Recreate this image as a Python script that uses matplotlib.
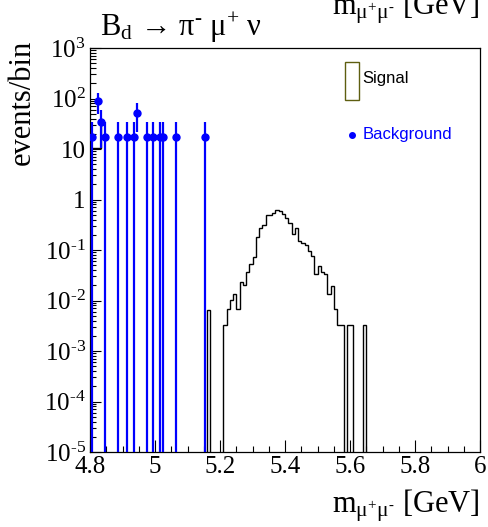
import numpy as np
import matplotlib.pyplot as plt
from matplotlib.patches import Rectangle
from matplotlib.lines import Line2D
from matplotlib.ticker import MultipleLocator, FixedLocator, FixedFormatter, FuncFormatter, LogLocator, NullFormatter

plt.rcParams['font.family'] = ['Liberation Serif', 'DejaVu Serif']
plt.rcParams['mathtext.fontset'] = 'custom'
plt.rcParams['mathtext.rm'] = 'Liberation Serif'
plt.rcParams['mathtext.it'] = 'Liberation Serif:italic'
plt.rcParams['mathtext.bf'] = 'Liberation Serif:bold'

# ---- dados ----
x_min, x_max, bin_w = 4.8, 6.0, 0.01

# sinal: histograma a partir do bin 5.16 (largura 0.01)
sig_first = 5.16
sig_vals = [0.00655, 0, 0, 0, 0,
            0.00327, 0.00668, 0.0102, 0.0132, 0.00668, 0.0229, 0.0203, 0.0361, 0.0528, 0.0738,
            0.184, 0.269, 0.313, 0.486, 0.486, 0.548, 0.619, 0.583, 0.509, 0.425,
            0.337, 0.207, 0.269, 0.153, 0.140, 0.126, 0.0968, 0.0760, 0.0330, 0.0482,
            0.0361, 0.0330, 0.0132, 0.0197, 0.00668, 0.00327, 0.00327, 0, 0.00327, 0.00327,
            0, 0, 0, 0.00327]

# fundo: centros dos bins, numero de eventos e peso por evento
bkg_centers = [4.805, 4.825, 4.835, 4.845, 4.885, 4.915, 4.935, 4.945, 4.975,
               4.995, 5.015, 5.025, 5.065, 5.155]
bkg_counts = [1, 5, 2, 1, 1, 1, 1, 3, 1, 1, 1, 1, 1, 1]
bkg_weight = 17.5

# contorno preto pequeno no inicio
step_x = [4.800, 4.834, 4.834]
step_y = [10.5, 10.5, 32.0]

HY = '\u2010'  # hifen curto, como no ROOT
y_ticks = [1e-5, 1e-4, 1e-3, 1e-2, 1e-1, 1, 10, 1e2, 1e3]
y_labels = [r'$\mathrm{10^{%s5}}$' % HY, r'$\mathrm{10^{%s4}}$' % HY, r'$\mathrm{10^{%s3}}$' % HY,
            r'$\mathrm{10^{%s2}}$' % HY, r'$\mathrm{10^{%s1}}$' % HY, '1', '10',
            r'$\mathrm{10^{2}}$', r'$\mathrm{10^{3}}$']

W, H = 488, 527
fig = plt.figure(figsize=(W / 100, H / 100), dpi=100)
ax = fig.add_axes([90 / W, 1 - 452 / H, 390 / W, 404 / H])

# histograma do sinal
n_sig = len(sig_vals)
edges = np.round(sig_first + bin_w * np.arange(n_sig + 1), 3)
vals = np.array(sig_vals, dtype=float)
vals_plot = np.where(vals > 0, vals, 1e-12)
ax.stairs(vals_plot, edges, color='black', linewidth=1.0, baseline=1e-12)

ax.plot(step_x, step_y, color='black', linewidth=1.0)

# pontos do fundo
bc = np.array(bkg_counts, dtype=float)
by = bc * bkg_weight
be = np.sqrt(bc) * bkg_weight
lower = np.minimum(be, by - 1e-12)
ax.errorbar(bkg_centers, by, yerr=[lower, be], fmt='o', color='#0000ff',
            markersize=5, elinewidth=1.6, capsize=0, zorder=3)

ax.set_xlim(x_min, x_max)
ax.set_yscale('log')
ax.set_ylim(1e-5, 1e3)

ax.xaxis.set_major_locator(MultipleLocator(0.2))
ax.xaxis.set_minor_locator(MultipleLocator(0.05))
ax.xaxis.set_major_formatter(FuncFormatter(lambda v, p: f'{v:g}'))
ax.yaxis.set_major_locator(FixedLocator(y_ticks))
ax.yaxis.set_major_formatter(FixedFormatter(y_labels))
ax.yaxis.set_minor_locator(LogLocator(base=10, subs=np.arange(2, 10), numticks=20))
ax.yaxis.set_minor_formatter(NullFormatter())

ax.tick_params(which='both', direction='in', top=False, right=False, labelsize=18, pad=3)
ax.tick_params(axis='y', which='major', length=8, width=0.8)
ax.tick_params(axis='y', which='minor', length=4, width=0.8)
ax.tick_params(axis='x', which='major', length=9, width=0.8)
ax.tick_params(axis='x', which='minor', length=4.5, width=0.8)
for s in ax.spines.values():
    s.set_linewidth(0.9)

# textos
xlab = r'$\mathrm{m_{\mu^{+}\mu^{%s}}}$ [GeV]' % HY
fig.text(480 / W, 1 - 513 / H, xlab, ha='right', va='baseline', fontsize=22)
fig.text(480 / W, 1 - 15 / H, xlab, ha='right', va='baseline', fontsize=22)
fig.text(22 / W, 1 - 40 / H, 'events/bin', rotation=90, ha='center', va='top', fontsize=22)
fig.text(100 / W, 1 - 36 / H, r'$\mathrm{B_{d}\,\rightarrow\,\pi^{%s}\ \mu^{+}\ \nu}$' % HY,
         ha='left', va='baseline', fontsize=22)

# legenda
fig.patches.append(Rectangle((345 / W, 1 - 100 / H), 14 / W, 38 / H, transform=fig.transFigure,
                             facecolor='white', edgecolor='#5e5e10', linewidth=1.0))
fig.text(362 / W, 1 - 79 / H, 'Signal', ha='left', va='center', fontsize=12,
         family='Liberation Sans', color='black')
fig.lines.append(Line2D([352 / W], [1 - 135 / H], transform=fig.transFigure, marker='o',
                        markersize=4, color='#0000ff', linestyle='none'))
fig.text(363 / W, 1 - 134 / H, 'Background', ha='left', va='center', fontsize=12,
         family='Liberation Sans', color='#0000ff')

fig.savefig('out.png', dpi=100)
